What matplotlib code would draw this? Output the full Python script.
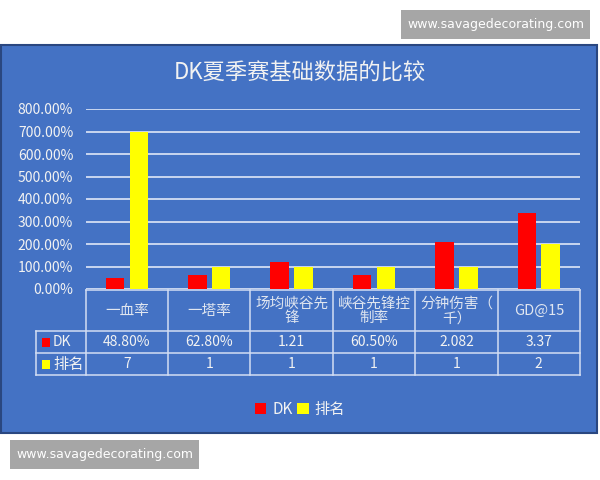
import numpy as np
import matplotlib
matplotlib.use("Agg")
import matplotlib.pyplot as plt
from matplotlib.patches import Rectangle

plt.rcParams['font.family'] = ['Noto Sans CJK SC', 'DejaVu Sans']

# data
categories = ["一血率", "一塔率", "场均峡谷先\n锋", "峡谷先锋控\n制率", "分钟伤害（\n千）", "GD@15"]
series_names = ["DK", "排名"]
dk_values = [0.488, 0.628, 1.21, 0.605, 2.082, 3.37]
rank_values = [7, 1, 1, 1, 1, 2]
dk_labels = ["48.80%", "62.80%", "1.21", "60.50%", "2.082", "3.37"]
rank_labels = ["7", "1", "1", "1", "1", "2"]
y_ticks = [0, 1, 2, 3, 4, 5, 6, 7, 8]
title = "DK夏季赛基础数据的比较"
watermark = "www.savagedecorating.com"

BLUE = "#4472C4"
LINE = "#D3DEF3"
TXT = "#F2F2F2"
RED = "#FF0000"
YEL = "#FFFF00"

W, H = 600, 480
fig = plt.figure(figsize=(6, 4.8), dpi=100)
fig.patch.set_facecolor("white")

# background layer in pixel coordinates (y down)
bg = fig.add_axes([0, 0, 1, 1], zorder=0)
bg.set_xlim(0, W)
bg.set_ylim(H, 0)
bg.axis("off")

bg.add_patch(Rectangle((0.5, 45), 596.5, 388, facecolor=BLUE, edgecolor="#2A4780", lw=1.5))

# watermarks
bg.add_patch(Rectangle((401, 10), 189, 29, facecolor="#A6A6A6", edgecolor="none"))
bg.text(495.5, 24.5, watermark, color="white", fontsize=9, family="DejaVu Sans",
        ha="center", va="center")
bg.add_patch(Rectangle((10, 440), 189, 29, facecolor="#A6A6A6", edgecolor="none"))
bg.text(104.5, 454.5, watermark, color="white", fontsize=9, family="DejaVu Sans",
        ha="center", va="center")

bg.text(300, 73, title, color=TXT, fontsize=16, ha="center", va="center")

# plot area
X0, X1 = 85.7, 580.0
Y0, Y8 = 289.0, 109.0
ax = fig.add_axes([X0 / W, 1 - Y0 / H, (X1 - X0) / W, (Y0 - Y8) / H], zorder=1)
ax.patch.set_alpha(0)
for s in ax.spines.values():
    s.set_visible(False)

x = np.arange(len(categories)) + 0.5
bw = 0.225
ax.bar(x - 0.145, dk_values, bw, color=RED, label=series_names[0], zorder=3)
ax.bar(x + 0.145, rank_values, bw, color=YEL, label=series_names[1], zorder=3)
ax.set_xlim(0, len(categories))
ax.set_ylim(0, 8)
ax.set_yticks(y_ticks)
ax.set_yticklabels(["%.2f%%" % (v * 100) for v in y_ticks], color=TXT, fontsize=10)
ax.tick_params(axis="y", length=0, pad=9)
ax.set_xticks([])
ax.grid(axis="y", color=LINE, lw=1.3, zorder=0)

# data table
cw = (X1 - X0) / len(categories)
r0, r1, r2, r3 = 289.7, 331.0, 353.3, 375.3
LX = 35.7
lw_t = 1.1
bg.plot([X0, X1], [r0, r0], color=LINE, lw=lw_t)
for yy in (r1, r2, r3):
    bg.plot([LX, X1], [yy, yy], color=LINE, lw=lw_t)
bg.plot([LX, LX], [r1, r3], color=LINE, lw=lw_t)
for i in range(len(categories) + 1):
    bg.plot([X0 + i * cw] * 2, [r0, r3], color=LINE, lw=lw_t)

for i, cat in enumerate(categories):
    cx = X0 + (i + 0.5) * cw
    bg.text(cx, (r0 + r1) / 2 + 0.5, cat, color="#E0E6F0", fontsize=10.5, ha="center",
            va="center", linespacing=1.05)
    bg.text(cx, (r1 + r2) / 2, dk_labels[i], color=TXT, fontsize=10, ha="center", va="center")
    bg.text(cx, (r2 + r3) / 2, rank_labels[i], color=TXT, fontsize=10, ha="center", va="center")

for (yy, name, col) in [((r1 + r2) / 2, series_names[0], RED), ((r2 + r3) / 2, series_names[1], YEL)]:
    bg.add_patch(Rectangle((41.7, yy - 4.5), 8.5, 9, facecolor=col, edgecolor="none"))
    bg.text(53, yy, name, color=TXT, fontsize=11 if name == "排名" else 10, ha="left", va="center")

fig.legend(loc="center", bbox_to_anchor=(0.5, 1 - 409 / H), ncol=2, frameon=False,
           handlelength=0.75, handleheight=0.75, handletextpad=0.4, columnspacing=0.3,
           labelcolor=TXT, fontsize=11)

fig.savefig("out.png", dpi=100, facecolor=fig.get_facecolor())
